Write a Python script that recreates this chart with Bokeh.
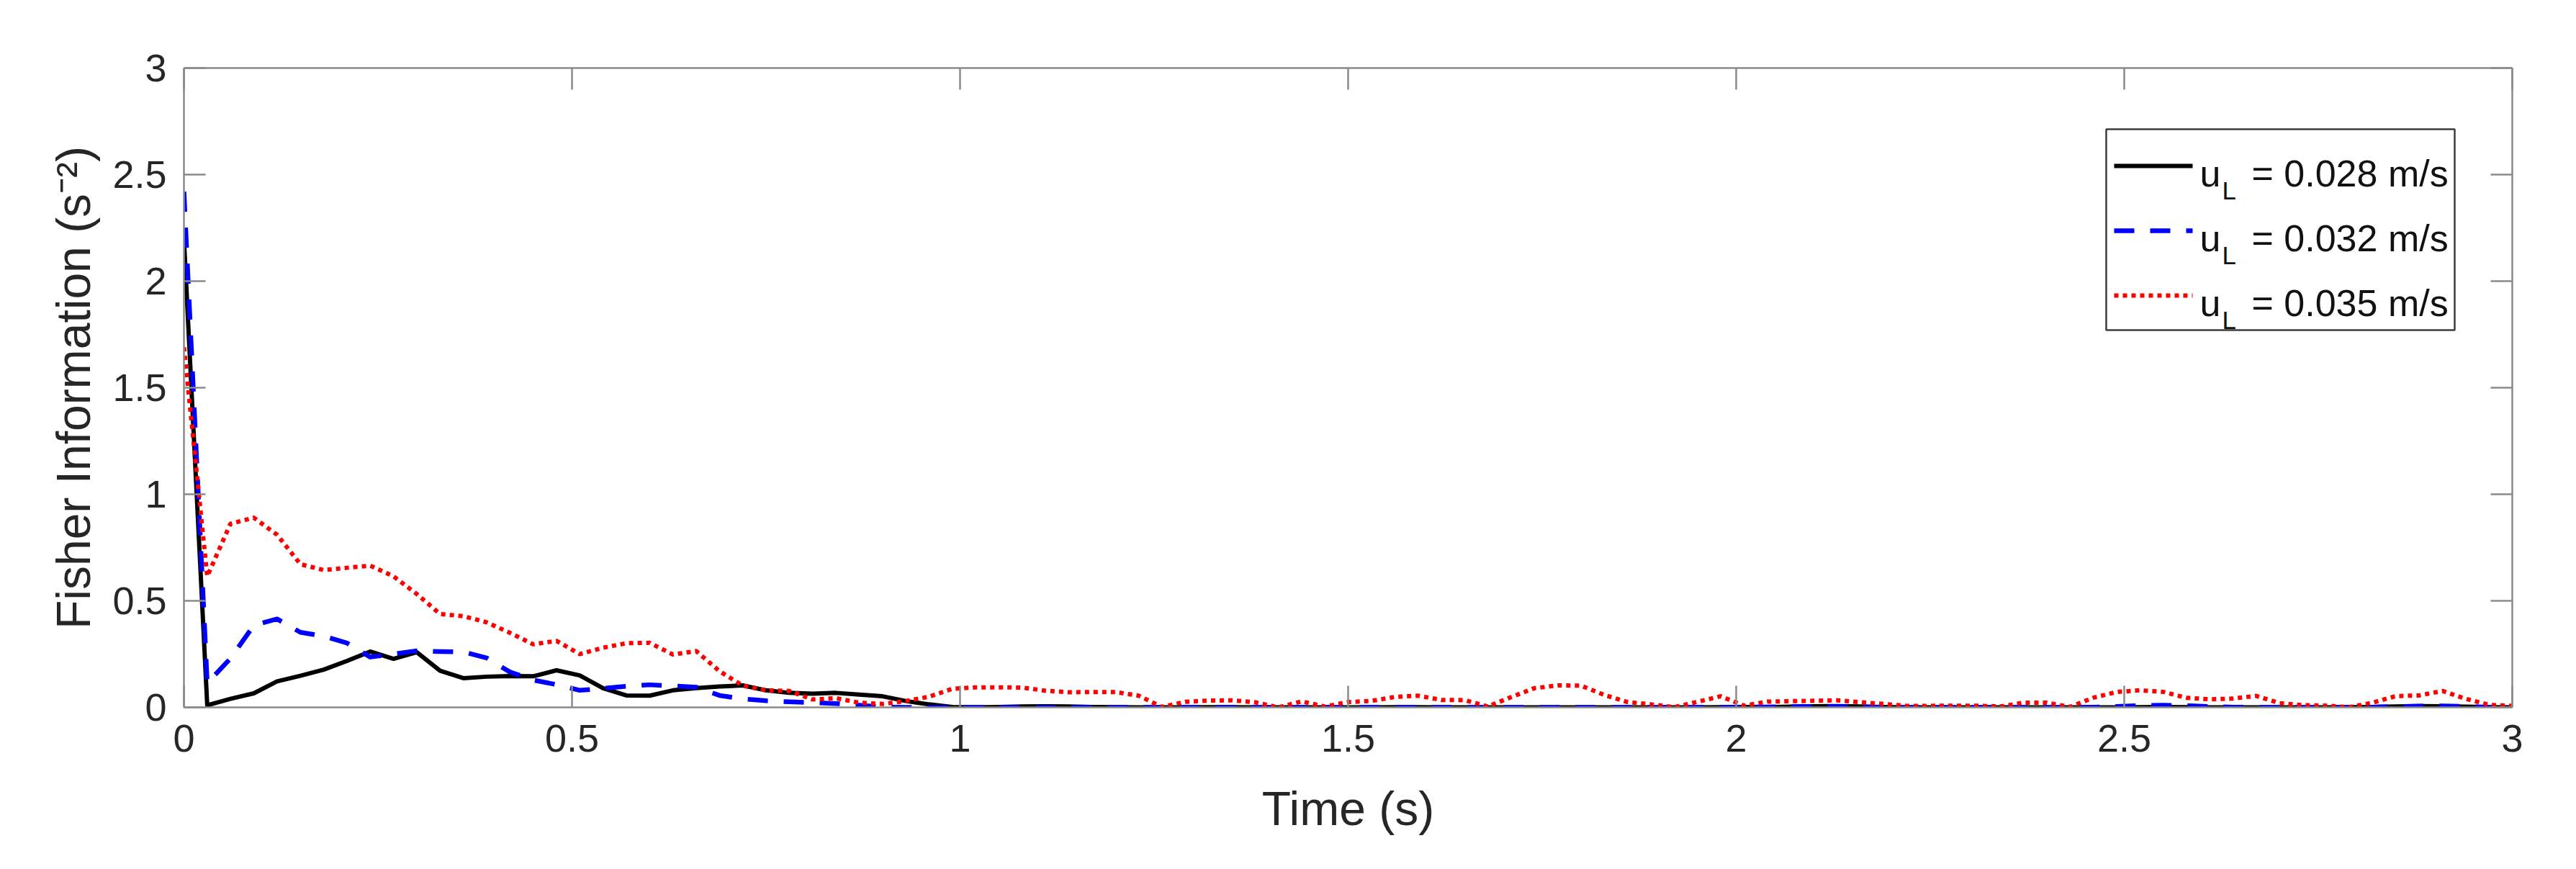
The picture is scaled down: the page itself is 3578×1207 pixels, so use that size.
import numpy as np
from bokeh.plotting import figure
from bokeh.models import (Range1d, FixedTicker, LinearAxis, Label, BoxAnnotation,
                          Arrow, NumeralTickFormatter)
from bokeh.embed import file_html
from bokeh.resources import INLINE

# ---------------- data ----------------
time_s = np.round(np.linspace(0.0, 3.0, 101), 2)

fi_028 = [2.20, 0.010, 0.040, 0.066, 0.122, 0.148, 0.177, 0.218, 0.262, 0.228,
          0.259, 0.172, 0.137, 0.144, 0.147, 0.146, 0.174, 0.150, 0.090, 0.056,
          0.055, 0.080, 0.090, 0.098, 0.103, 0.080, 0.068, 0.064, 0.068, 0.060,
          0.052, 0.030, 0.014, 0.002, 0.000, 0.002, 0.004, 0.005, 0.004, 0.002,
          0.001, 0.000, 0.000, 0.000, 0.001, 0.001, 0.000, 0.000, 0.000, 0.000,
          0.000, 0.000, 0.001, 0.001, 0.000, 0.000, 0.000, 0.000, 0.000, 0.000,
          0.000, 0.000, 0.000, 0.000, 0.000, 0.000, 0.001, 0.002, 0.001, 0.003,
          0.005, 0.006, 0.004, 0.002, 0.000, 0.000, 0.000, 0.000, 0.000, 0.000,
          0.000, 0.000, 0.000, 0.000, 0.001, 0.002, 0.001, 0.000, 0.000, 0.000,
          0.000, 0.000, 0.000, 0.001, 0.002, 0.004, 0.006, 0.005, 0.003, 0.001,
          0.000]

fi_032 = [2.42, 0.113, 0.230, 0.385, 0.415, 0.352, 0.334, 0.302, 0.236, 0.250,
          0.265, 0.262, 0.260, 0.232, 0.166, 0.128, 0.107, 0.080, 0.089, 0.099,
          0.106, 0.101, 0.095, 0.056, 0.040, 0.031, 0.026, 0.022, 0.018, 0.010,
          0.002, 0.000, 0.000, 0.000, 0.000, 0.000, 0.000, 0.000, 0.000, 0.000,
          0.000, 0.000, 0.000, 0.000, 0.000, 0.000, 0.000, 0.000, 0.000, 0.000,
          0.000, 0.000, 0.000, 0.000, 0.000, 0.000, 0.000, 0.000, 0.000, 0.000,
          0.000, 0.000, 0.000, 0.000, 0.000, 0.000, 0.000, 0.001, 0.002, 0.003,
          0.004, 0.004, 0.002, 0.000, 0.000, 0.000, 0.000, 0.000, 0.000, 0.000,
          0.000, 0.000, 0.001, 0.004, 0.008, 0.010, 0.008, 0.004, 0.001, 0.000,
          0.000, 0.000, 0.000, 0.000, 0.001, 0.003, 0.006, 0.007, 0.004, 0.001,
          0.000]

fi_035 = [1.69, 0.615, 0.862, 0.890, 0.810, 0.672, 0.644, 0.655, 0.665, 0.615,
          0.532, 0.438, 0.428, 0.399, 0.350, 0.296, 0.312, 0.250, 0.280, 0.301,
          0.303, 0.248, 0.264, 0.170, 0.102, 0.080, 0.077, 0.037, 0.043, 0.022,
          0.016, 0.030, 0.050, 0.087, 0.094, 0.094, 0.093, 0.078, 0.071, 0.072,
          0.072, 0.055, 0.002, 0.026, 0.032, 0.033, 0.024, 0.000, 0.028, 0.004,
          0.025, 0.030, 0.049, 0.055, 0.035, 0.034, 0.004, 0.048, 0.090, 0.103,
          0.102, 0.058, 0.025, 0.014, 0.001, 0.026, 0.052, 0.008, 0.027, 0.029,
          0.031, 0.033, 0.024, 0.016, 0.007, 0.007, 0.008, 0.008, 0.004, 0.022,
          0.022, 0.002, 0.045, 0.072, 0.080, 0.073, 0.045, 0.038, 0.041, 0.054,
          0.020, 0.010, 0.008, 0.001, 0.022, 0.053, 0.056, 0.077, 0.040, 0.012,
          0.007]

series_labels = ["0.028 m/s", "0.032 m/s", "0.035 m/s"]
tick_values = [0, 0.5, 1, 1.5, 2, 2.5, 3]

x_label = "Time (s)"
y_label = "Fisher Information (s\u207b\u00b2)"

# ---------------- figure ----------------
FONT = "Liberation Sans"
AX_COL = "#8a8a8a"
TXT_COL = "#262626"

p = figure(width=3560, height=1190, x_range=Range1d(0, 3), y_range=Range1d(0, 3),
           x_axis_type=None, y_axis_type=None,
           output_backend="svg", toolbar_location=None,
           min_border_left=255, min_border_right=71,
           min_border_top=94, min_border_bottom=208)
p.outline_line_color = None
p.background_fill_color = "white"
p.border_fill_color = "white"

bottom_ax = LinearAxis()
left_ax = LinearAxis()
right_ax = LinearAxis()
top_ax = LinearAxis()
p.add_layout(bottom_ax, "below")
p.add_layout(left_ax, "left")
p.add_layout(right_ax, "right")
p.add_layout(top_ax, "above")

for ax in [bottom_ax, left_ax, right_ax, top_ax]:
    ax.ticker = FixedTicker(ticks=tick_values)
    ax.formatter = NumeralTickFormatter(format="0.[0]")
    ax.axis_line_color = AX_COL
    ax.axis_line_width = 2.5
    ax.major_tick_line_color = AX_COL
    ax.major_tick_line_width = 2.5
    ax.major_tick_in = 30
    ax.major_tick_out = 0
    ax.minor_tick_in = 0
    ax.minor_tick_out = 0
    ax.major_label_text_font = FONT
    ax.major_label_text_font_size = "54px"
    ax.major_label_text_color = TXT_COL
    ax.axis_label_text_font = FONT
    ax.axis_label_text_font_size = "66px"
    ax.axis_label_text_font_style = "normal"
    ax.axis_label_text_color = TXT_COL

for ax in [right_ax, top_ax]:
    ax.major_label_text_color = None
    ax.major_label_standoff = 0

bottom_ax.axis_label = x_label
left_ax.axis_label = y_label
bottom_ax.major_label_standoff = 24
left_ax.major_label_standoff = 24
bottom_ax.axis_label_standoff = 39
left_ax.axis_label_standoff = 14

styles = [
    dict(line_color="black", line_width=6),
    dict(line_color="#0000ff", line_width=6.5, line_dash="28 22"),
    dict(line_color="#ff0000", line_width=6, line_dash="6 6"),
]
for ys, st in zip([fi_028, fi_032, fi_035], styles):
    p.line(time_s, ys, line_join="round", **st)

# ---------------- legend (custom, screen units relative to frame) ----------------
box = BoxAnnotation(left=2670, right=3154, top=803, bottom=524,
                    left_units="screen", right_units="screen",
                    top_units="screen", bottom_units="screen",
                    fill_color="white", fill_alpha=1.0,
                    line_color="#3c3c3c", line_width=2.5, line_alpha=1.0)
p.add_layout(box)

row_y = [742, 652, 562]
for st, lab, yb in zip(styles, series_labels, row_y):
    kw = dict(line_color=st["line_color"], line_width=st["line_width"])
    if "line_dash" in st:
        kw["line_dash"] = st["line_dash"]
    p.add_layout(Arrow(end=None, x_start=2681, y_start=yb + 10, x_end=2790, y_end=yb + 10,
                       start_units="screen", end_units="screen", **kw))
    p.add_layout(Label(x=2800, y=yb, x_units="screen", y_units="screen", text="u",
                       text_font=FONT, text_font_size="52px", text_color="#111111",
                       text_baseline="alphabetic", text_align="left"))
    p.add_layout(Label(x=2831, y=yb - 24, x_units="screen", y_units="screen", text="L",
                       text_font=FONT, text_font_size="35px", text_color="#111111",
                       text_baseline="alphabetic", text_align="left"))
    p.add_layout(Label(x=2872, y=yb, x_units="screen", y_units="screen", text="= " + lab,
                       text_font=FONT, text_font_size="52px", text_color="#111111",
                       text_baseline="alphabetic", text_align="left"))

open("out.html", "w").write(file_html(p, INLINE))
